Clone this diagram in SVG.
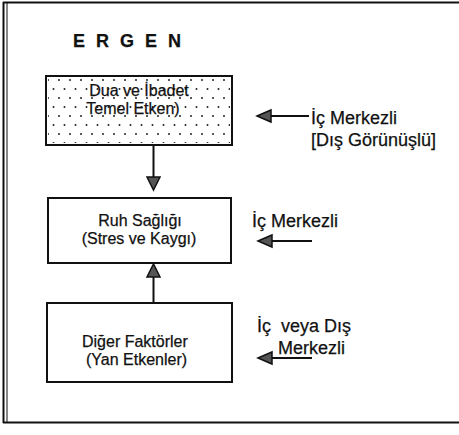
<svg xmlns="http://www.w3.org/2000/svg" width="459" height="435" viewBox="0 0 459 435">
<style>
  .frame { stroke: #111; fill: none; }
  .box { fill: #fff; stroke: #111; stroke-width: 2; }
  .t { font-family: "Liberation Sans", Arial, sans-serif; fill: #111; stroke: #111; stroke-width: 0.25; }
  .bt { font-size: 16px; }
  .lt { font-size: 18px; }
  .conn { stroke: #111; stroke-width: 2; fill: none; }
  .head { fill: #555; stroke: #111; stroke-width: 1.5; stroke-linejoin: miter; }
</style>
<defs>
  <pattern id="dots" x="46" y="77" width="11" height="18" patternUnits="userSpaceOnUse">
    <circle cx="2" cy="3" r="1" fill="#222"/>
    <circle cx="7.5" cy="12" r="1" fill="#222"/>
  </pattern>
</defs>
<rect width="459" height="435" fill="#fff"/>
<g id="frame">
  <line class="frame" x1="3" y1="2.5" x2="459" y2="2.5" stroke-width="2"/>
  <line class="frame" x1="3" y1="422.5" x2="459" y2="422.5" stroke-width="2"/>
  <line class="frame" x1="3.5" y1="2" x2="3.5" y2="423" stroke-width="2"/>
  <line class="frame" x1="7" y1="2" x2="7" y2="423" stroke-width="1"/>
</g>
<g id="title">
  <text class="t" x="73" y="47" font-size="18" font-weight="bold" letter-spacing="3">E R G E N</text>
</g>
<g id="connectors">
  <line class="conn" x1="153.5" y1="146" x2="153.5" y2="178"/>
  <polygon class="head" points="147,177 160,177 153.5,190"/>
  <line class="conn" x1="153.5" y1="303" x2="153.5" y2="276"/>
  <polygon class="head" points="147,277 160,277 153.5,264"/>
  <line class="conn" x1="270" y1="116" x2="309" y2="116"/>
  <polygon class="head" points="257,116 271,110 271,122"/>
  <line class="conn" x1="270" y1="241" x2="312" y2="241"/>
  <polygon class="head" points="258,241 272,235 272,247"/>
  <line class="conn" x1="270" y1="358" x2="312" y2="358"/>
  <polygon class="head" points="258,358 272,352 272,364"/>
</g>
<g id="node-dua">
  <rect class="box" x="46" y="76" width="186" height="69"/>
  <rect x="48" y="78" width="182" height="65" fill="url(#dots)"/>
  <text class="t bt" x="139" y="96" text-anchor="middle">Dua ve İbadet</text>
  <text class="t bt" x="133" y="114" text-anchor="middle">Temel Etken)</text>
</g>
<g id="node-ruh">
  <rect class="box" x="48" y="198" width="183" height="65"/>
  <text class="t bt" x="140" y="226" text-anchor="middle">Ruh Sağlığı</text>
  <text class="t bt" x="139" y="244" text-anchor="middle">(Stres ve Kaygı)</text>
</g>
<g id="node-diger">
  <rect class="box" x="47" y="303" width="185" height="79"/>
  <text class="t bt" x="82" y="347">Diğer Faktörler</text>
  <text class="t bt" x="86" y="365">(Yan Etkenler)</text>
</g>
<g id="label-1">
  <text class="t lt" x="311" y="124">İç Merkezli</text>
  <text class="t lt" x="311" y="146">[Dış Görünüşlü]</text>
</g>
<g id="label-2">
  <text class="t lt" x="252" y="227">İç Merkezli</text>
</g>
<g id="label-3">
  <text class="t lt" x="257" y="332" xml:space="preserve">İç  veya Dış</text>
  <text class="t lt" x="278" y="354">Merkezli</text>
</g>
</svg>
